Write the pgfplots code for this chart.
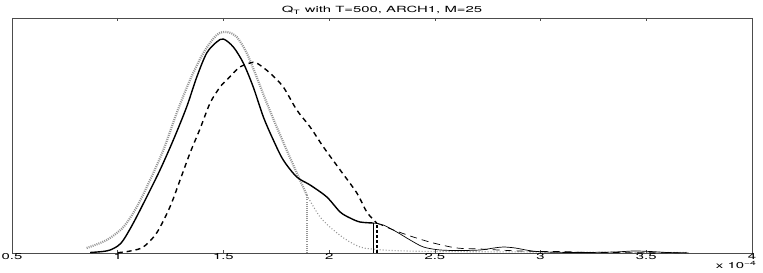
\documentclass[border=0pt]{standalone}
\usepackage{pgfplots}
\pgfplotsset{compat=1.18}
\usepackage{fontspec}
\setmainfont{TeX Gyre Heros}
\usepackage{graphicx}
\newcommand{\hs}[1]{\scalebox{1.75}[1]{#1}}
\definecolor{dotgray}{RGB}{150,150,150}
\begin{document}
\begin{tikzpicture}
\begin{axis}[
  scale only axis, width=740pt, height=235pt,
  xmin=0.5, xmax=4, ymin=0, ymax=235,
  xtick={0.5,1,1.5,2,2.5,3,3.5,4}, ytick=\empty,
  tick align=inside, major tick length=3pt,
  /pgf/number format/assume math mode=true,
  xticklabel={\hs{\pgfmathprintnumber{\tick}}},
  xticklabel style={font=\fontsize{8.5}{9}\selectfont, inner sep=1pt, yshift=1pt},
  axis line style={draw=black!70, line width=0.9pt},
  tick style={draw=black!70, line width=0.5pt},
  clip=false,
]
% gray dotted: thick part and thin part
\addplot[dotgray, line width=2.2pt, dash pattern=on 1pt off 1.1pt, smooth] coordinates {
(0.853,5)(0.948,13)(1.027,26)(1.09,46)(1.153,73)(1.216,103)(1.279,140)(1.342,173)(1.405,200)(1.468,218)(1.516,221)(1.563,216)(1.61,200)(1.657,176)(1.705,150)(1.752,126)(1.799,103)(1.847,80)(1.894,58)};
\addplot[dotgray, line width=1.1pt, dash pattern=on 1pt off 2pt, smooth] coordinates {
(1.894,58)(1.957,36)(2.02,23)(2.083,13)(2.146,6)(2.2,4)(2.3,2.5)(2.5,1.5)(3.0,1)(3.7,0.5)};
\addplot[dotgray, line width=2.2pt, dash pattern=on 1pt off 1.1pt] coordinates {(1.894,0)(1.894,58)};
% solid
\addplot[black, line width=1.4pt, smooth] coordinates {
(0.87,0.5)(0.93,1.5)(0.964,3)(1.0,7)(1.027,13)(1.074,30)(1.137,56)(1.2,83)(1.263,113)(1.326,146)(1.374,176)(1.421,200)(1.468,211)(1.5,214)(1.547,206)(1.594,190)(1.641,166)(1.689,136)(1.736,113)(1.783,93)(1.847,76)(1.91,68)(1.989,56)(2.052,41)(2.099,35)(2.146,31)(2.209,30)};
\addplot[black, line width=0.7pt, smooth] coordinates {
(2.209,30)(2.256,28)(2.32,21)(2.383,13)(2.446,6)(2.525,3)(2.62,2.5)(2.714,3)(2.78,5)(2.824,6)(2.88,5)(2.96,2)(3.05,0.8)(3.2,0.5)(3.35,1)(3.44,2)(3.52,1.5)(3.6,0.5)(3.69,0.2)};
\addplot[black, line width=1.6pt] coordinates {(2.209,0)(2.209,30)};
% dashed
\addplot[black, line width=1.4pt, dash pattern=on 5pt off 4pt, smooth] coordinates {
(1.0,0.3)(1.06,2)(1.121,6)(1.184,20)(1.247,46)(1.295,73)(1.342,100)(1.389,124)(1.437,150)(1.484,166)(1.516,173)(1.547,180)(1.578,186)(1.626,190)(1.657,190)(1.72,180)(1.783,166)(1.847,143)(1.91,126)(1.973,106)(2.052,83)(2.131,60)(2.178,41)(2.225,30)};
\addplot[black, line width=0.7pt, dash pattern=on 7pt off 5pt, smooth] coordinates {
(2.225,30)(2.304,23)(2.398,16)(2.493,10)(2.604,5)(2.714,4)(2.8,3)(2.9,2)(3.0,1.5)(3.1,1.5)(3.2,0.7)(3.3,0.5)(3.5,0.3)(3.7,0.1)};
\addplot[black, line width=1.6pt, dash pattern=on 3pt off 2pt] coordinates {(2.225,0)(2.225,30)};
\node[anchor=base, font=\fontsize{8.5}{9}\selectfont, inner sep=0pt] at (rel axis cs:0.5,1) [yshift=5pt] {\hs{Q\textsubscript{T} with T=500, ARCH1, M=25}};
\node[anchor=base east, font=\fontsize{8.5}{9}\selectfont, inner sep=0pt] at (rel axis cs:1,0) [xshift=5pt, yshift=-15pt] {\hs{x 10\textsuperscript{−4}}};
\end{axis}
\pgfresetboundingbox
\path[use as bounding box] (current axis.south west) ++(-12pt,-20pt) rectangle ([xshift=11pt,yshift=18pt]current axis.north east);
\end{tikzpicture}
\end{document}
